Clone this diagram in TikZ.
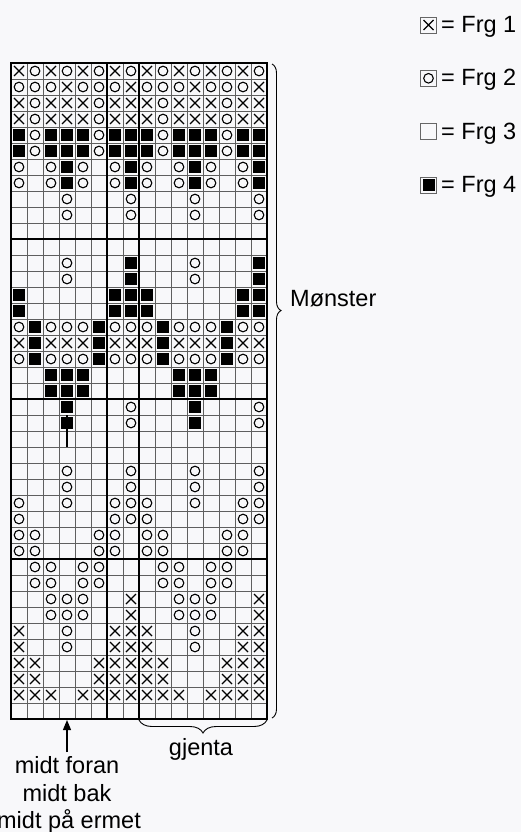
\documentclass[tikz,border=0pt]{standalone}
\usepackage{fontspec}
\setmainfont{Liberation Sans}
\usetikzlibrary{arrows.meta,decorations.pathreplacing}

\definecolor{paper}{RGB}{248,248,250}
\definecolor{gridline}{RGB}{95,95,95}
\newcommand{\chartfont}{\fontsize{23.5}{28}\selectfont}

% one stitch symbol, centred on (#1,#2)
\newcommand{\knitx}[2]{\draw[line width=1.1pt] (#1-5,#2-5) -- (#1+5,#2+5) (#1+5,#2-5) -- (#1-5,#2+5);}
\newcommand{\knito}[2]{\draw[line width=1.1pt] (#1,#2) circle[radius=4.8pt];}
\newcommand{\knitb}[2]{\fill (#1-6,#2-6) rectangle (#1+6,#2+6);}
\newcommand{\knitw}[2]{}

\begin{document}
\begin{tikzpicture}[x=1pt, y=-1pt, every node/.style={font=\chartfont, inner sep=0pt}]
\fill[paper] (0,0) rectangle (521,832);
\useasboundingbox (0,0) rectangle (521,832);

% thin grid
\foreach \k in {0,...,16} \draw[gridline, line width=0.7pt] (11+16*\k,63) -- (11+16*\k,719);
\foreach \r in {0,...,41} \draw[gridline, line width=0.7pt] (11,63+16*\r) -- (267,63+16*\r);

% chart rows, the 8 stitches are repeated twice
\foreach \pat [count=\r] in {
 {x,o,x,o,x,o,x,o}, {o,o,o,x,o,o,o,x}, {x,o,x,x,x,o,x,x}, {x,o,x,x,x,o,x,x},
 {b,o,b,b,b,o,b,b}, {b,o,b,b,b,o,b,b}, {o,w,o,b,o,w,o,b}, {o,w,o,b,o,w,o,b},
 {w,w,w,o,w,w,w,o}, {w,w,w,o,w,w,w,o}, {w,w,w,w,w,w,w,w}, {w,w,w,w,w,w,w,w},
 {w,w,w,o,w,w,w,b}, {w,w,w,o,w,w,w,b}, {b,w,w,w,w,w,b,b}, {b,w,w,w,w,w,b,b},
 {o,b,o,o,o,b,o,o}, {x,b,x,x,x,b,x,x}, {o,b,o,o,o,b,o,o}, {w,w,b,b,b,w,w,w},
 {w,w,b,b,b,w,w,w}, {w,w,w,b,w,w,w,o}, {w,w,w,b,w,w,w,o}, {w,w,w,w,w,w,w,w},
 {w,w,w,w,w,w,w,w}, {w,w,w,o,w,w,w,o}, {w,w,w,o,w,w,w,o}, {o,w,w,o,w,w,o,o},
 {o,w,w,w,w,w,o,o}, {o,o,w,w,w,o,o,w}, {o,o,w,w,w,o,o,w}, {w,o,o,w,o,o,w,w},
 {w,o,o,w,o,o,w,w}, {w,w,o,o,o,w,w,x}, {w,w,o,o,o,w,w,x}, {x,w,w,o,w,w,x,x},
 {x,w,w,o,w,w,x,x}, {x,x,w,w,w,x,x,x}, {x,x,w,w,w,x,x,x}, {x,x,x,w,x,x,x,x},
 {x,x,x,w,x,x,x,x}
}{
  \foreach \c [count=\k] in \pat {
    \foreach \h in {0,8} {
      \pgfmathsetmacro\cx{19+16*(\k-1+\h)}
      \pgfmathsetmacro\cy{71+16*(\r-1)}
      \csname knit\c\endcsname{\cx}{\cy}
    }
  }
}
\draw[line width=1.3pt] (67,415) -- (67,447);

% heavy lines
\draw[line width=1.6pt] (107,63) -- (107,719);
\foreach \r in {11,21,31} \draw[line width=1.6pt] (11,63+16*\r) -- (267,63+16*\r);
\draw[line width=2.6pt] (139,63) -- (139,719);
\draw[line width=2.6pt] (11,63) rectangle (267,719);

\coordinate (chartNE) at (272,64);
\coordinate (chartSE) at (272,718);
\coordinate (repR) at (267,720);
\coordinate (repL) at (139,720);
\coordinate (midTip) at (67,720);
\coordinate (midFoot) at (67,752);

\draw[line width=0.9pt, decorate, decoration={brace, amplitude=9pt, aspect=0.377}] (chartNE) -- (chartSE);
\node[anchor=base west] (monster) at (290,306) {Mønster};
\draw[line width=0.9pt, decorate, decoration={brace, amplitude=13pt}] (repR) -- (repL);
\node[anchor=base] (gjenta) at (201,755) {gjenta};
\draw[-{Triangle[length=10pt,width=8pt]}, line width=1.2pt] (midFoot) -- (midTip);
\node[anchor=base] (foran) at (67,773) {midt foran};
\node[anchor=base] (bak) at (67,801.5) {midt bak};
\node[anchor=base] (ermet) at (69,828) {midt på ermet};

% legend
\foreach \s/\n [count=\i] in {x/1,o/2,w/3,b/4} {
  \pgfmathsetmacro\ky{25+53.3*(\i-1)}
  \node[draw=gray!80!black, line width=0.8pt, minimum size=16pt] (key\n) at (428.5,\ky) {};
  \csname knit\s\endcsname{428.5}{\ky}
  \node[anchor=base west] (keytxt\n) at (441,\ky+7.5) {= Frg \n};
}
\end{tikzpicture}
\end{document}
